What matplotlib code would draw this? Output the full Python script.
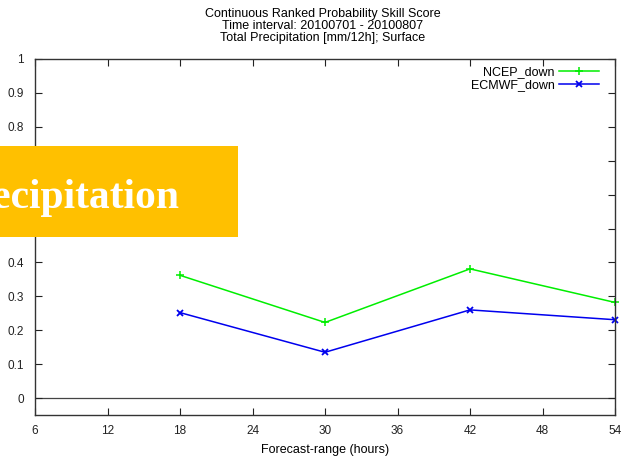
import matplotlib
matplotlib.use("Agg")
import matplotlib.pyplot as plt
from matplotlib.patches import Rectangle

# data
hours = [18, 30, 42, 54]
ncep_down = [0.362, 0.223, 0.381, 0.282]
ecmwf_down = [0.252, 0.135, 0.260, 0.231]
x_ticks = [6, 12, 18, 24, 30, 36, 42, 48, 54]
y_ticks = [0, 0.1, 0.2, 0.3, 0.4, 0.5, 0.6, 0.7, 0.8, 0.9, 1]
y_labels = ["0", "0.1", "0.2", "0.3", "0.4", "0.5", "0.6", "0.7", "0.8", "0.9", "1"]
title_lines = ["Continuous Ranked Probability Skill Score",
               "Time interval: 20100701 - 20100807",
               "Total Precipitation [mm/12h]; Surface"]

plt.rcParams['font.family'] = ['Liberation Sans', 'DejaVu Sans']

W, H = 625, 458
fig = plt.figure(figsize=(W / 100, H / 100), dpi=100)
ax = fig.add_axes([35 / W, 1 - 415 / H, (615 - 35) / W, (415 - 59) / H])

ax.plot(hours, ncep_down, color='#00ee00', lw=1.1, marker='+', ms=6, mew=1.1,
        label='NCEP_down', clip_on=False)
ax.plot(hours, ecmwf_down, color='#0000ee', lw=1.1, marker='x', ms=5, mew=1.3,
        label='ECMWF_down', clip_on=False)
ax.axhline(0, color='#444444', lw=0.9, zorder=1)

ax.set_xlim(6, 54)
ax.set_ylim(-0.05, 1)
ax.set_xticks(x_ticks)
ax.set_yticks(y_ticks)
ax.set_yticklabels(y_labels)
ax.tick_params(direction='in', top=True, right=True, length=5, width=0.8,
               labelsize=8.5, colors='#222222')
ax.tick_params(axis='x', pad=7)
ax.tick_params(axis='y', pad=8)
for s in ax.spines.values():
    s.set_color('#333333')
    s.set_linewidth(1)

ax.set_xlabel('Forecast-range (hours)', fontsize=9, labelpad=5)

for i, line in enumerate(title_lines):
    fig.text(323 / W, 1 - (14 + 12 * i) / H, line, ha='center', va='center',
             fontsize=9)

ax.legend(loc='upper right', bbox_to_anchor=(0.986, 1.0), frameon=False,
          markerfirst=False, fontsize=9, handlelength=3.2, borderaxespad=0.3,
          labelspacing=0.05, handletextpad=0.4, borderpad=0.3)

# orange banner overlay
fig.patches.append(Rectangle((0, 1 - 237 / H), 238 / W, 91 / H,
                             transform=fig.transFigure, facecolor='#ffc000',
                             edgecolor='none', zorder=5))
fig.text(179 / W, 1 - 208 / H, 'Precipitation', ha='right', va='baseline',
         color='white', fontsize=30, fontweight='bold',
         family='Liberation Serif', zorder=6)

fig.savefig('out.png', dpi=100)
